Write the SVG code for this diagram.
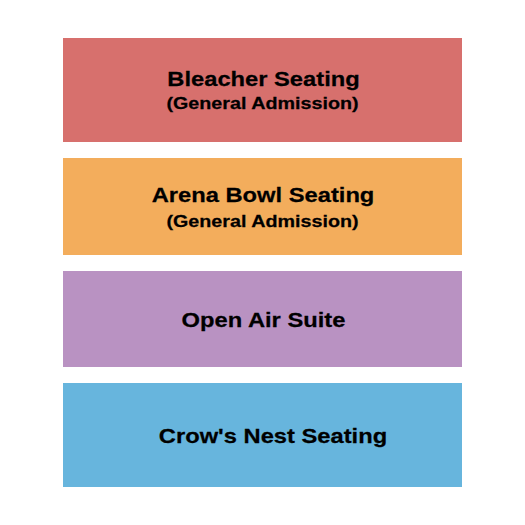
<svg xmlns="http://www.w3.org/2000/svg" width="525" height="525" viewBox="0 0 525 525">
<style>
.t{font-family:"Liberation Sans",Arial,sans-serif;font-weight:bold;fill:#000;stroke:#000;stroke-width:0.25;text-anchor:middle}
.l{font-size:21px}
.s{font-size:17px}
</style>
<rect width="525" height="525" fill="#fff"/>
<g id="bleacher">
<rect x="63" y="38" width="399" height="104" fill="#D7706D"/>
<text class="t l" transform="translate(263.5,85.5) scale(1.13,1)">Bleacher Seating</text>
<text class="t s" transform="translate(262.5,109) scale(1.16,1)">(General Admission)</text>
</g>
<g id="arena">
<rect x="63" y="158" width="399" height="97" fill="#F3AD5C"/>
<text class="t l" transform="translate(263,202) scale(1.13,1)">Arena Bowl Seating</text>
<text class="t s" transform="translate(262.5,226.5) scale(1.16,1)">(General Admission)</text>
</g>
<g id="suite">
<rect x="63" y="271" width="399" height="96" fill="#B992C2"/>
<text class="t l" transform="translate(263.5,327) scale(1.13,1)">Open Air Suite</text>
</g>
<g id="crows">
<rect x="63" y="383" width="399" height="104" fill="#67B5DD"/>
<text class="t l" transform="translate(273,443) scale(1.13,1)">Crow's Nest Seating</text>
</g>
<g id="connectors"/>
</svg>
